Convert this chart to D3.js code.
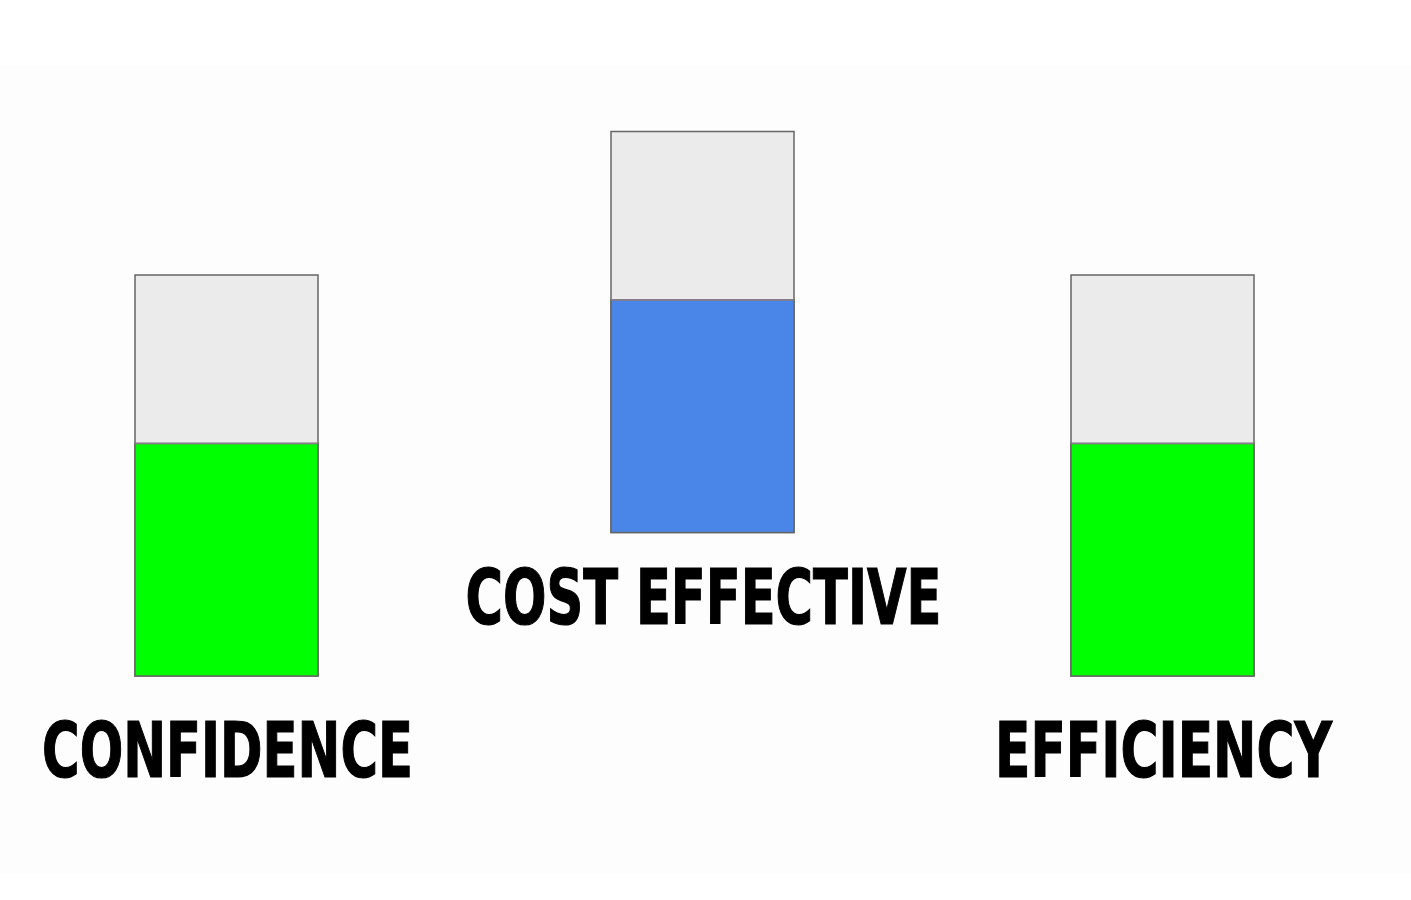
<!DOCTYPE html>
<html>
<head>
<meta charset="utf-8">
<script src="https://cdn.jsdelivr.net/npm/d3@7"></script>
<style>
  html, body { margin: 0; padding: 0; background: #ffffff; }
  svg { display: block; }
</style>
</head>
<body>
<svg id="chart" width="1411" height="900"></svg>
<script>
// ---- data ----
const categories = ["CONFIDENCE", "COST EFFECTIVE", "EFFICIENCY"];
const values = [58, 58, 58];
const maxValue = 100;
const fillColors = ["#00ff00", "#4a86e8", "#00ff00"];

// ---- layout ----
const W = 1411, H = 900;
const barW = 183, barH = 401;
const centers = [226.5, 702.5, 1162.5];
const bottoms = [676, 532.5, 676];
const labelBaselines = [777, 624, 777];
const labelWidths = [371, 476, 337];

const svg = d3.select("#chart");
svg.append("rect").attr("x", 0).attr("y", 65).attr("width", W).attr("height", 808).attr("fill", "#fdfdfd");

categories.forEach((cat, i) => {
  const y = d3.scaleLinear().domain([0, maxValue]).range([bottoms[i], bottoms[i] - barH]);
  const x0 = centers[i] - barW / 2;
  const g = svg.append("g");
  g.append("rect")
    .attr("x", x0).attr("y", y(maxValue))
    .attr("width", barW).attr("height", y(0) - y(maxValue))
    .attr("fill", "#ebebeb").attr("stroke", "#666").attr("stroke-width", 1.5);
  g.append("rect")
    .attr("x", x0).attr("y", y(values[i]))
    .attr("width", barW).attr("height", y(0) - y(values[i]))
    .attr("fill", fillColors[i]).attr("stroke", "#666").attr("stroke-width", 1.5);
  g.append("line")
    .attr("x1", x0).attr("x2", x0 + barW)
    .attr("y1", y(values[i])).attr("y2", y(values[i]))
    .attr("stroke", "#8a8090").attr("stroke-width", 1.5);
  const t = g.append("text")
    .attr("x", 0).attr("y", 0)
    .attr("text-anchor", "middle")
    .attr("font-family", "'DejaVu Sans Condensed', 'DejaVu Sans', sans-serif")
    .attr("font-weight", 700)
    .attr("font-size", 76)
    .attr("fill", "#000")
    .attr("stroke", "#000").attr("stroke-width", 1.2)
    .text(cat);
  const natural = t.node().getComputedTextLength();
  const sx = labelWidths[i] / natural;
  t.attr("transform", `translate(${centers[i] + 1},${labelBaselines[i]}) scale(${sx},1)`);
});
</script>
</body>
</html>
